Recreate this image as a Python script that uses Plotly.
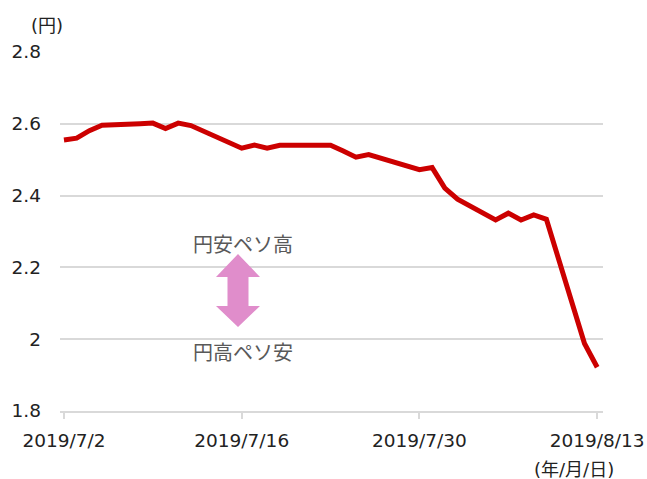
import plotly.graph_objects as go

# ---- data ----
dates = ["2019-07-02", "2019-07-03", "2019-07-04", "2019-07-05",
         "2019-07-08", "2019-07-09", "2019-07-10", "2019-07-11", "2019-07-12",
         "2019-07-15", "2019-07-16", "2019-07-17", "2019-07-18", "2019-07-19",
         "2019-07-22", "2019-07-23", "2019-07-24", "2019-07-25", "2019-07-26",
         "2019-07-29", "2019-07-30", "2019-07-31", "2019-08-01", "2019-08-02",
         "2019-08-05", "2019-08-06", "2019-08-07", "2019-08-08", "2019-08-09",
         "2019-08-12", "2019-08-13"]
values = [2.555, 2.560, 2.581, 2.596,
          2.600, 2.602, 2.587, 2.602, 2.595,
          2.546, 2.532, 2.541, 2.532, 2.540,
          2.540, 2.540, 2.524, 2.507, 2.514,
          2.484, 2.472, 2.478, 2.421, 2.390,
          2.332, 2.351, 2.332, 2.346, 2.334,
          1.988, 1.922]
x_tickvals = ["2019-07-02", "2019-07-16", "2019-07-30", "2019-08-13"]
x_ticktext = ["2019/7/2", "2019/7/16", "2019/7/30", "2019/8/13"]
y_tickvals = [1.8, 2.0, 2.2, 2.4, 2.6, 2.8]
y_ticktext = ["1.8", "2", "2.2", "2.4", "2.6", "2.8"]
label_up = "円安ペソ高"
label_down = "円高ペソ安"
y_unit = "(円)"
x_unit = "(年/月/日)"

# ---- layout geometry ----
W, H = 647, 479
L, R, T, B = 60, 44, 52, 68
PW, PH = W - L - R, H - T - B


def px(xp):
    return (xp - L) / PW


def py(yp):
    return (H - B - yp) / PH


x_start = "2019-07-01 16:30"
x_end = "2019-08-13 11:00"

fig = go.Figure()
fig.add_trace(go.Scatter(
    x=dates, y=values, mode="lines",
    line=dict(color="#CC0000", width=5),
    hoverinfo="skip", showlegend=False,
))

tick_font = dict(family="DejaVu Sans, Verdana, sans-serif", size=18.5, color="#222222")

fig.update_layout(
    width=W, height=H,
    margin=dict(l=L, r=R, t=T, b=B, pad=0, autoexpand=False),
    paper_bgcolor="white", plot_bgcolor="white",
    xaxis=dict(
        type="date", range=[x_start, x_end], automargin=False,
        tickvals=x_tickvals, ticktext=x_ticktext,
        showgrid=False, zeroline=False,
        showline=True, linecolor="#D9D9D9", linewidth=1.5,
        ticks="outside", ticklen=6, tickcolor="#D9D9D9", tickwidth=1.5,
        tickfont=tick_font, ticklabelstandoff=6,
    ),
    yaxis=dict(
        range=[1.8, 2.8], tickvals=y_tickvals, ticktext=y_ticktext,
        automargin=False,
        showgrid=True, gridcolor="#D9D9D9", gridwidth=1.5,
        zeroline=False, showline=False, ticks="",
        tickfont=tick_font, ticklabelstandoff=18,
    ),
)

# block double arrow (decoration)
pts = [(238, 254), (260, 277), (248.5, 277), (248.5, 306), (260, 306),
       (238, 327), (216, 306), (227.5, 306), (227.5, 277), (216, 277)]
path = "M " + " L ".join(f"{px(a):.5f},{py(b):.5f}" for a, b in pts) + " Z"
fig.add_shape(type="path", path=path, xref="paper", yref="paper",
              fillcolor="#E08DCB", line=dict(width=0), layer="above")

lab_font = dict(family="Noto Sans CJK JP, sans-serif", size=20, color="#595959")
for text, yy in ((label_up, 243), (label_down, 351)):
    fig.add_annotation(x=px(243), y=py(yy), xref="paper", yref="paper",
                       xanchor="center", yanchor="middle",
                       text=text, showarrow=False, font=lab_font)

unit_font = dict(family="DejaVu Sans, Noto Sans CJK JP, sans-serif", size=18, color="#222222")
fig.add_annotation(x=px(47), y=py(25), xref="paper", yref="paper",
                   xanchor="center", yanchor="middle",
                   text=y_unit, showarrow=False, font=unit_font)
fig.add_annotation(x=px(574), y=py(469), xref="paper", yref="paper",
                   xanchor="center", yanchor="middle",
                   text=x_unit, showarrow=False, font=unit_font)

fig.write_html(
    "out.html",
    config={"displayModeBar": False},
    post_script="document.body.style.margin='0px';document.body.style.overflow='hidden';",
)
